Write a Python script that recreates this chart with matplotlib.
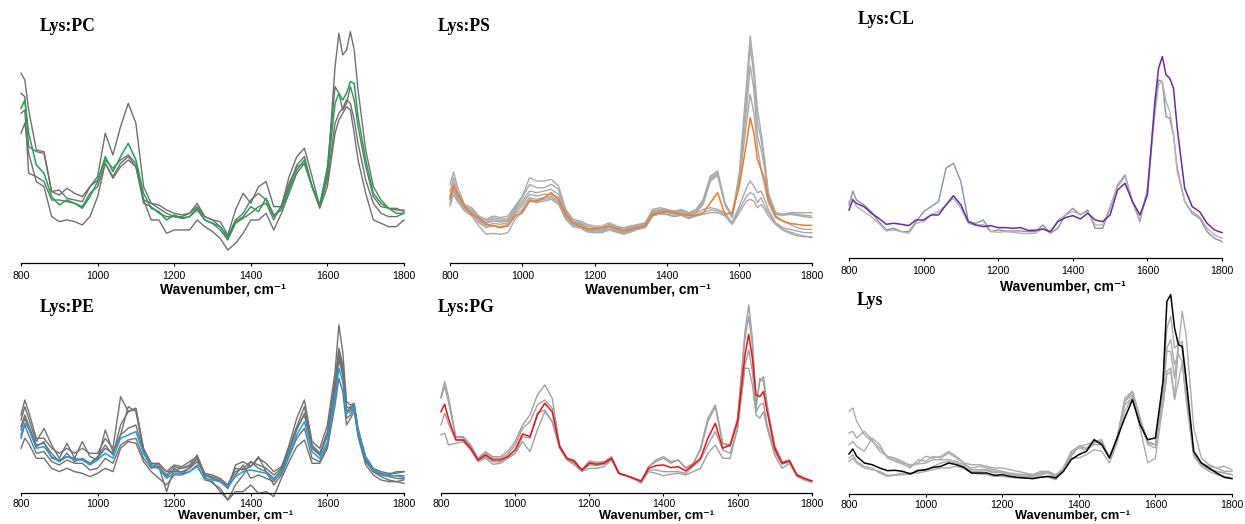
import matplotlib
matplotlib.use('Agg')
import matplotlib.pyplot as plt

plt.rcParams['font.family'] = ['Liberation Sans', 'DejaVu Sans']

# wavenumber grid shared by every spectrum (cm-1)
WN = [800, 810, 820, 840, 860, 880, 900, 920, 940, 960, 980, 1000, 1020, 1040, 1060,
      1080, 1100, 1120, 1140, 1160, 1180, 1200, 1220, 1240, 1260, 1280, 1300, 1320,
      1340, 1360, 1380, 1400, 1420, 1440, 1460, 1480, 1500, 1520, 1540, 1560, 1580,
      1600, 1620, 1630, 1640, 1650, 1660, 1670, 1680, 1700, 1720, 1740, 1760, 1780, 1800]

# ---- Lys:PC (absorbance, a.u.)
PC_MEAN = [465, 490, 390, 295, 270, 200, 175, 190, 180, 165, 200, 245, 320, 275, 320, 360, 310, 210, 165, 155,
           130, 145, 135, 140, 165, 130, 120, 110, 75, 125, 140, 170, 155, 195, 145, 160, 220, 280, 310, 230,
           175, 270, 480, 510, 490, 510, 545, 540, 440, 310, 210, 180, 165, 150, 150]
PC_REPS = [
    [570, 550, 460, 340, 335, 215, 205, 225, 210, 200, 230, 260, 390, 325, 410, 480, 420, 230, 180, 175,
     160, 150, 145, 150, 180, 140, 130, 125, 85, 160, 210, 180, 230, 245, 170, 170, 260, 320, 345, 260,
     170, 270, 590, 690, 625, 640, 695, 640, 520, 340, 230, 190, 165, 165, 155],
    [390, 420, 330, 245, 230, 140, 125, 130, 125, 115, 140, 200, 300, 260, 300, 320, 290, 190, 130, 130,
     90, 100, 100, 100, 130, 110, 95, 75, 40, 60, 90, 130, 130, 150, 100, 150, 210, 270, 300, 230,
     165, 230, 390, 430, 450, 470, 460, 390, 310, 210, 130, 120, 110, 110, 130],
    [510, 500, 350, 335, 330, 215, 220, 195, 190, 185, 230, 250, 310, 285, 310, 325, 300, 190, 180, 165,
     150, 140, 140, 150, 170, 140, 130, 110, 80, 130, 150, 190, 210, 190, 140, 170, 230, 295, 320, 230,
     175, 290, 530, 510, 460, 480, 530, 490, 410, 290, 200, 170, 165, 160, 160],
    [450, 460, 270, 260, 245, 190, 190, 185, 180, 170, 210, 230, 300, 255, 290, 310, 290, 180, 170, 150,
     140, 140, 135, 140, 160, 130, 120, 100, 70, 120, 135, 150, 170, 180, 130, 175, 240, 290, 300, 230,
     170, 250, 420, 450, 465, 490, 480, 430, 360, 250, 180, 150, 140, 140, 150],
]

# ---- Lys:PS
PS_MEAN = [195, 230, 210, 170, 145, 135, 115, 110, 105, 110, 140, 150, 185, 185, 195, 210, 190, 145, 120, 110,
           100, 102, 105, 110, 102, 95, 100, 105, 110, 145, 150, 155, 150, 145, 142, 142, 150, 180, 210, 145,
           150, 230, 360, 435, 390, 310, 280, 250, 190, 140, 125, 118, 115, 112, 112]
PS_REPS = [
    [235, 272, 230, 175, 165, 140, 130, 140, 135, 140, 170, 200, 255, 245, 245, 250, 230, 160, 130, 125,
     115, 110, 110, 120, 110, 105, 110, 115, 120, 160, 165, 160, 155, 160, 150, 160, 190, 260, 275, 180,
     140, 270, 540, 680, 590, 460, 390, 310, 210, 150, 145, 150, 150, 150, 150],
    [215, 255, 215, 170, 160, 135, 125, 135, 130, 132, 165, 195, 235, 225, 225, 235, 220, 155, 125, 120,
     110, 105, 105, 115, 108, 100, 108, 112, 118, 155, 160, 158, 152, 158, 148, 155, 185, 255, 270, 178,
     138, 260, 500, 650, 560, 420, 370, 300, 205, 150, 145, 148, 145, 142, 140],
    [200, 240, 205, 165, 155, 130, 120, 130, 125, 128, 160, 185, 215, 210, 215, 220, 205, 150, 122, 118,
     105, 100, 100, 110, 105, 98, 105, 110, 115, 150, 158, 155, 150, 155, 145, 152, 180, 250, 265, 175,
     135, 250, 460, 590, 520, 380, 340, 280, 200, 145, 142, 145, 142, 138, 135],
    [190, 225, 200, 160, 150, 125, 118, 125, 122, 125, 155, 178, 205, 200, 205, 205, 195, 145, 120, 115,
     102, 98, 98, 108, 102, 95, 102, 108, 112, 150, 155, 152, 148, 150, 142, 150, 175, 245, 262, 175,
     135, 240, 420, 505, 450, 350, 280, 230, 180, 135, 125, 115, 105, 100, 100],
    [190, 220, 195, 165, 150, 125, 110, 118, 115, 120, 150, 170, 195, 190, 195, 200, 185, 140, 115, 110,
     98, 95, 95, 105, 98, 90, 98, 105, 110, 145, 152, 150, 145, 148, 140, 148, 160, 165, 160, 150,
     120, 170, 225, 245, 230, 210, 215, 190, 160, 120, 105, 100, 95, 90, 90],
    [180, 215, 190, 160, 145, 120, 105, 112, 108, 115, 145, 160, 190, 185, 190, 195, 180, 135, 112, 108,
     95, 92, 92, 100, 95, 88, 95, 102, 108, 142, 148, 146, 140, 145, 135, 142, 150, 158, 155, 145,
     118, 160, 200, 210, 205, 180, 195, 170, 150, 118, 100, 92, 85, 80, 75],
    [170, 205, 185, 155, 140, 110, 85, 88, 85, 90, 130, 155, 185, 180, 185, 190, 175, 130, 108, 104,
     92, 90, 90, 98, 92, 85, 92, 100, 105, 140, 146, 144, 138, 142, 132, 140, 145, 150, 150, 140,
     115, 150, 185, 190, 185, 165, 175, 160, 140, 115, 98, 88, 80, 78, 78],
]

# ---- Lys:CL
CL_MEAN = [145, 175, 165, 155, 135, 120, 102, 105, 102, 98, 115, 115, 130, 130, 160, 188, 160, 110, 100, 95,
           98, 92, 92, 90, 92, 84, 84, 88, 80, 110, 122, 128, 118, 135, 115, 110, 130, 205, 225, 170,
           130, 190, 470, 570, 605, 550, 540, 510, 390, 210, 155, 140, 105, 85, 77]
CL_REPS = [
    [160, 202, 175, 160, 140, 110, 85, 90, 80, 80, 110, 140, 155, 170, 270, 285, 230, 110, 105, 115,
     80, 85, 82, 82, 82, 80, 80, 100, 75, 90, 130, 150, 130, 145, 90, 90, 150, 220, 250, 170,
     110, 210, 450, 535, 530, 425, 420, 370, 270, 170, 135, 120, 80, 60, 50],
    [170, 180, 155, 140, 125, 105, 82, 85, 80, 75, 105, 110, 130, 140, 160, 180, 150, 105, 98, 102,
     80, 78, 80, 78, 75, 74, 75, 90, 75, 115, 130, 140, 132, 140, 100, 100, 155, 215, 245, 170,
     115, 200, 430, 520, 530, 470, 440, 370, 260, 170, 140, 125, 90, 70, 60],
]

# ---- Lys:PE
PE_MEAN = [175, 210, 195, 135, 140, 110, 95, 110, 100, 100, 85, 100, 120, 105, 165, 175, 185, 120, 85, 75,
           45, 60, 60, 65, 80, 45, 40, 35, 20, 50, 65, 70, 65, 60, 40, 60, 115, 175, 215, 125,
           105, 155, 285, 375, 335, 240, 245, 260, 185, 105, 70, 57, 53, 53, 47]
PE_REPS = [
    [235, 280, 245, 165, 165, 135, 120, 135, 120, 135, 120, 120, 165, 135, 290, 245, 255, 135, 90, 85,
     65, 85, 80, 95, 110, 60, 55, 45, 25, 65, 75, 95, 85, 75, 55, 75, 145, 225, 280, 155,
     135, 205, 365, 505, 425, 275, 265, 270, 195, 110, 75, 65, 60, 60, 65],
    [220, 260, 225, 155, 195, 145, 105, 150, 105, 155, 110, 100, 190, 125, 175, 260, 245, 125, 85, 80,
     55, 80, 75, 85, 115, 55, 50, 40, 15, 85, 95, 80, 105, 90, 65, 80, 135, 200, 260, 145,
     120, 185, 335, 435, 385, 260, 255, 265, 190, 105, 70, 60, 55, 65, 65],
    [165, 205, 175, 120, 125, 95, 85, 100, 90, 90, 70, 75, 105, 90, 145, 160, 165, 105, 75, 80,
     5, 75, 60, 75, 105, 50, 30, 15, -20, 25, 55, 95, 75, 65, 25, 55, 110, 165, 195, 105,
     95, 145, 295, 415, 365, 225, 235, 255, 180, 95, 65, 50, 40, 35, 30],
    [135, 165, 150, 105, 105, 75, 65, 75, 65, 60, 50, 60, 75, 65, 135, 155, 150, 95, 65, 45,
     25, 55, 55, 65, 85, 40, 35, 5, -20, 5, 5, 25, 0, 5, -10, 45, 95, 140, 160, 90,
     90, 135, 265, 345, 305, 205, 225, 245, 170, 85, 55, 40, 35, 35, 40],
    [200, 235, 205, 145, 150, 120, 95, 120, 95, 105, 90, 110, 145, 115, 205, 245, 255, 130, 90, 90,
     65, 65, 65, 75, 95, 55, 45, 35, 15, 55, 85, 45, 55, 45, 35, 65, 125, 190, 240, 135,
     115, 175, 315, 400, 355, 245, 260, 265, 190, 105, 70, 60, 53, 53, 53],
    [190, 225, 195, 140, 155, 105, 100, 110, 105, 100, 90, 105, 135, 120, 175, 195, 205, 120, 80, 75,
     50, 70, 75, 80, 105, 55, 45, 35, 25, 75, 70, 80, 110, 65, 45, 70, 135, 195, 235, 140,
     115, 175, 335, 430, 375, 245, 250, 260, 187, 100, 65, 55, 50, 45, 43],
]

# ---- Lys:PG
PG_MEAN = [245, 267, 225, 160, 160, 135, 100, 115, 100, 100, 110, 130, 178, 170, 235, 270, 245, 140, 105, 95,
           70, 90, 87, 90, 105, 60, 53, 45, 37, 75, 83, 85, 77, 80, 67, 85, 105, 165, 210, 135,
           145, 215, 415, 477, 405, 295, 290, 305, 245, 135, 90, 97, 55, 45, 37]
PG_REPS = [
    [290, 335, 290, 170, 170, 145, 105, 125, 110, 110, 125, 155, 205, 235, 295, 325, 285, 145, 105, 100,
     70, 97, 93, 95, 110, 60, 53, 45, 35, 80, 95, 105, 90, 100, 75, 85, 135, 225, 265, 150,
     145, 225, 485, 565, 465, 265, 335, 350, 265, 145, 95, 100, 55, 45, 37],
    [285, 320, 275, 168, 167, 140, 103, 120, 105, 105, 117, 145, 195, 215, 265, 280, 255, 143, 103, 97,
     68, 93, 90, 93, 108, 60, 53, 45, 35, 80, 100, 110, 95, 100, 77, 90, 130, 215, 260, 150,
     140, 215, 465, 530, 445, 255, 345, 335, 250, 140, 93, 99, 55, 45, 37],
    [205, 240, 210, 160, 160, 135, 97, 110, 95, 95, 105, 120, 170, 165, 240, 250, 215, 135, 100, 90,
     67, 85, 83, 87, 103, 59, 52, 43, 35, 70, 70, 65, 65, 65, 60, 80, 100, 145, 185, 130,
     120, 195, 385, 430, 365, 245, 265, 270, 205, 125, 87, 95, 53, 43, 37],
    [175, 180, 145, 150, 155, 130, 95, 105, 87, 90, 105, 120, 155, 125, 190, 245, 215, 137, 100, 85,
     65, 75, 75, 80, 100, 58, 52, 43, 30, 65, 60, 53, 57, 60, 55, 65, 75, 120, 145, 105,
     105, 195, 375, 375, 325, 235, 225, 245, 195, 115, 75, 90, 50, 40, 33],
]

# ---- Lys (protein alone)
LYS_MEAN = [120, 135, 113, 93, 88, 78, 70, 71, 68, 60, 70, 73, 80, 83, 93, 88, 80, 63, 63, 63,
            56, 58, 53, 50, 48, 46, 50, 53, 48, 68, 103, 118, 128, 163, 148, 108, 168, 228, 283, 208,
            163, 168, 338, 578, 598, 498, 448, 443, 348, 128, 93, 78, 63, 50, 46]
LYS_REPS = [
    [248, 258, 218, 178, 158, 138, 113, 108, 98, 83, 93, 113, 108, 113, 128, 113, 93, 88, 88, 83,
     78, 78, 73, 68, 63, 58, 68, 68, 58, 78, 118, 143, 138, 158, 163, 108, 168, 278, 308, 228,
     153, 148, 268, 368, 378, 288, 438, 548, 478, 198, 108, 88, 78, 83, 73],
    [183, 188, 168, 188, 163, 128, 113, 103, 93, 88, 90, 93, 103, 103, 103, 98, 88, 78, 83, 78,
     73, 68, 63, 60, 58, 58, 63, 63, 53, 78, 128, 143, 138, 153, 158, 108, 163, 288, 308, 228,
     153, 148, 338, 498, 533, 438, 448, 458, 328, 123, 93, 83, 78, 68, 68],
    [148, 158, 143, 128, 168, 148, 108, 98, 90, 78, 103, 98, 113, 108, 123, 108, 93, 73, 73, 73,
     68, 63, 60, 56, 53, 53, 58, 63, 48, 73, 113, 143, 148, 158, 153, 108, 168, 268, 288, 218,
     148, 138, 318, 438, 463, 388, 418, 398, 288, 118, 88, 73, 68, 63, 58],
    [98, 108, 93, 78, 73, 68, 56, 58, 63, 63, 63, 68, 73, 78, 78, 83, 76, 63, 60, 58,
     53, 53, 50, 48, 48, 48, 53, 50, 43, 73, 108, 108, 118, 133, 128, 93, 153, 248, 293, 198,
     93, 108, 268, 358, 368, 283, 338, 393, 288, 113, 83, 68, 58, 53, 48],
    [108, 118, 98, 83, 78, 63, 53, 56, 58, 60, 73, 70, 83, 93, 98, 93, 83, 68, 68, 70,
     63, 68, 58, 56, 53, 56, 63, 68, 50, 78, 123, 138, 133, 148, 148, 113, 168, 278, 298, 223,
     158, 148, 298, 428, 428, 348, 448, 443, 318, 120, 90, 76, 68, 63, 58],
]

W, H = 1245, 524
fig = plt.figure(figsize=(W / 100, H / 100), dpi=100)


def panel(left, right, base, height, title, tx, ty, reps, rep_colors, mean, mean_color,
          label_x, label_dy, tick_pad, label_size):
    ax = fig.add_axes([left / W, (H - base) / H, (right - left) / W, height / H])
    ax.patch.set_visible(False)
    for i, r in enumerate(reps):
        c = rep_colors[i % len(rep_colors)]
        ax.plot(WN, r, color=c, lw=1.0, clip_on=False, solid_joinstyle='round')
    ax.plot(WN, mean, color=mean_color, lw=1.1, clip_on=False, solid_joinstyle='round')
    ax.set_xlim(800, 1800)
    ax.set_ylim(0, 3 * height)
    ax.set_xticks(range(800, 1801, 200))
    ax.set_yticks([])
    for s in ('top', 'right', 'left'):
        ax.spines[s].set_visible(False)
    ax.spines['bottom'].set_linewidth(0.9)
    ax.tick_params(axis='x', labelsize=7.6, length=2.5, width=0.8, pad=tick_pad)
    ax.set_xlabel('Wavenumber, cm\u207b\u00b9', fontsize=label_size, fontweight='bold', va='top')
    # top of the label, in pixels below the axis line
    ax.xaxis.set_label_coords(label_x, -label_dy / height)
    fig.text(tx / W, 1 - ty / H, title, family='Liberation Serif', fontweight='bold',
             fontsize=12.7, va='baseline')
    return ax


panel(21, 404, 263.3, 235, 'Lys:PC', 40, 31, PC_REPS, ['#6f6f6f'], PC_MEAN, '#17a84b', 0.527, 19.5, 3.2, 10)
panel(450, 811.7, 262.7, 235, 'Lys:PS', 438, 31, PS_REPS, ['#a9a9a9'], PS_MEAN, '#f07a25', 0.546, 19.5, 3.2, 10)
panel(849, 1222, 258.3, 235, 'Lys:CL', 858, 24.5, CL_REPS, ['#8794a6', '#b4b4b4'], CL_MEAN, '#6b2aa3', 0.574, 21, 3.2, 10)
panel(21, 404, 493.3, 210, 'Lys:PE', 40, 312, PE_REPS, ['#707070'], PE_MEAN, '#1a9fe0', 0.559, 16.5, 1.8, 9.2)
panel(441, 811.7, 493.3, 210, 'Lys:PG', 438, 312, PG_REPS, ['#a0a0a0'], PG_MEAN, '#ee1111', 0.581, 16.5, 1.8, 9.2)
panel(849, 1232, 494, 210, 'Lys', 857, 305, LYS_REPS, ['#ababab'], LYS_MEAN, '#000000', 0.585, 16, 1.8, 9.2)

fig.savefig('out.png', dpi=100)
